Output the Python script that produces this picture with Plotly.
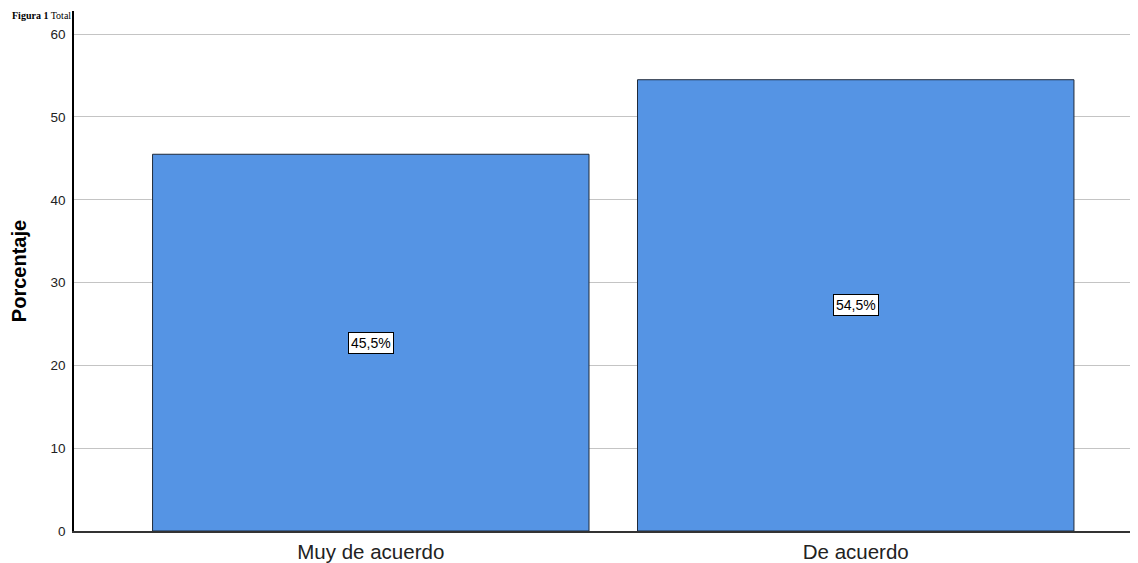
import plotly.graph_objects as go

categories = ["Muy de acuerdo", "De acuerdo"]
percentages = [45.5, 54.5]
labels = ["45,5%", "54,5%"]
y_ticks = [0, 10, 20, 30, 40, 50, 60]

fig = go.Figure()

fig.add_trace(
    go.Bar(
        x=categories,
        y=percentages,
        width=0.9,
        marker={"color": "#5594e4", "line": {"color": "#1f2a3a", "width": 1}},
        hoverinfo="skip",
    )
)

# value boxes in the middle of each bar
for cat, val, lab in zip(categories, percentages, labels):
    fig.add_annotation(
        x=cat,
        y=val / 2,
        text=lab,
        showarrow=False,
        font={"family": "Liberation Sans, Arial", "size": 14, "color": "black"},
        bgcolor="white",
        bordercolor="black",
        borderwidth=1,
        borderpad=2,
    )

# caption in the top-left corner (only a sliver of it shows in the source)
fig.add_annotation(
    xref="paper",
    yref="paper",
    x=-0.06,
    y=1.0,
    xanchor="left",
    yanchor="top",
    yshift=3,
    text="<b>Figura 1</b> Total",
    showarrow=False,
    font={"family": "Liberation Serif, Times New Roman", "size": 10, "color": "black"},
)

# the page body adds an 8 px offset, so the figure is 8 px smaller
fig.update_layout(
    width=1130,
    height=555,
    plot_bgcolor="white",
    paper_bgcolor="white",
    showlegend=False,
    margin={"l": 66, "r": 1, "t": 3, "b": 32},
    font={"family": "Liberation Sans, Arial", "color": "#222"},
    xaxis={
        "range": [-0.612, 1.58],
        "showgrid": False,
        "showline": True,
        "linecolor": "#333",
        "linewidth": 1.5,
        "ticks": "",
        "tickfont": {"size": 20.5, "color": "#222"},
        "ticklabelstandoff": 2,
        "fixedrange": True,
    },
    yaxis={
        "range": [0, 62.8],
        "tickvals": y_ticks,
        "showgrid": True,
        "gridcolor": "#c4c4c4",
        "gridwidth": 1,
        "zeroline": False,
        "showline": True,
        "linecolor": "black",
        "linewidth": 1.5,
        "ticks": "",
        "tickfont": {"size": 13.5, "color": "#222"},
        "ticklabelstandoff": 4,
        "title": {
            "text": "<b>Porcentaje</b>",
            "font": {"size": 20, "color": "black"},
            "standoff": 20,
        },
        "fixedrange": True,
    },
)

fig.write_html("out.html")
